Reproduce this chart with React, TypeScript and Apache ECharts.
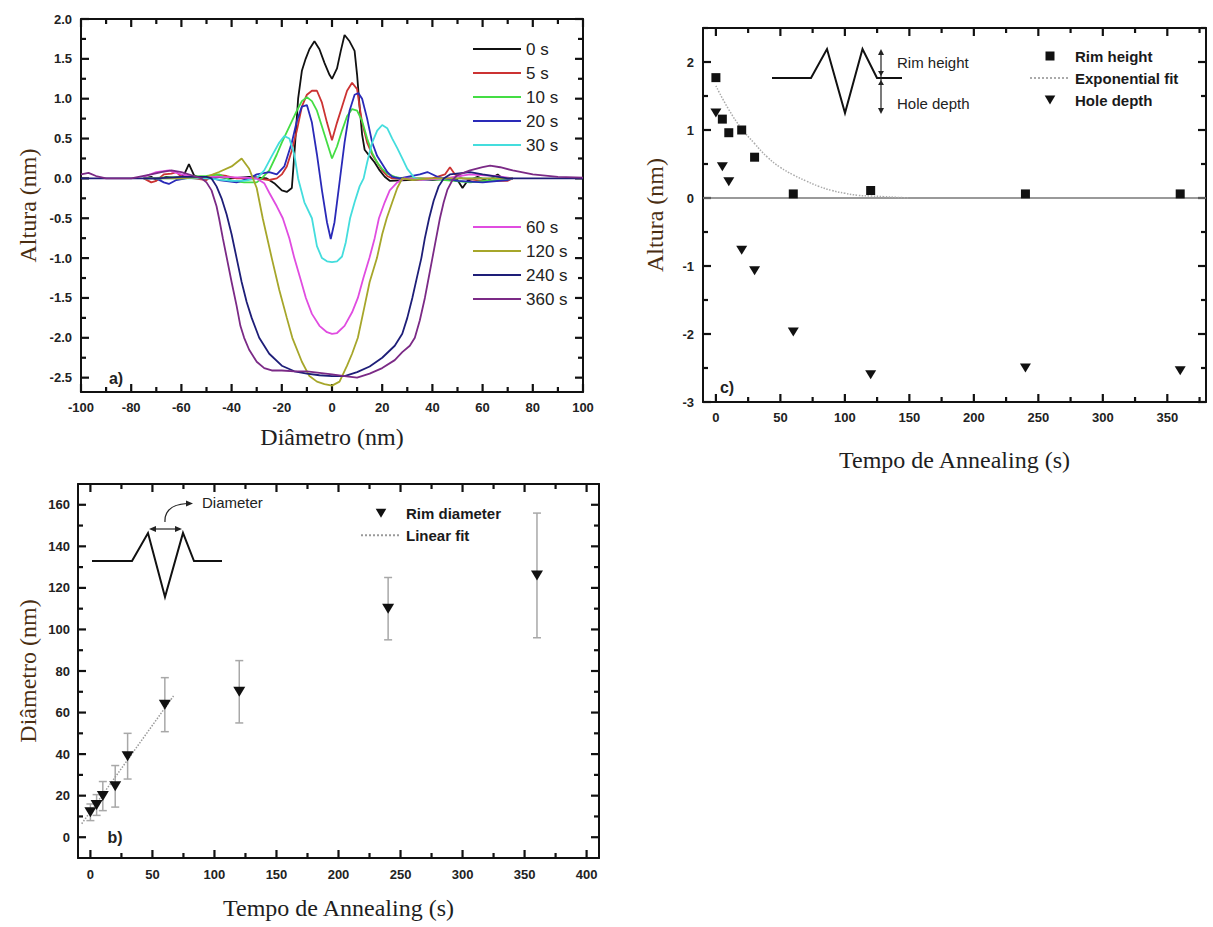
import React, { useEffect, useRef } from 'react';
import * as echarts from 'echarts';

// ---------- Panel a: height profiles ----------
const curveNames = ['0 s', '5 s', '10 s', '20 s', '30 s', '60 s', '120 s', '240 s', '360 s'];
const curveColors = ['#111111', '#cc3333', '#44dd44', '#2a2ab8', '#44dddd', '#e04ce0', '#a6a62a', '#1e1e78', '#7b2a86'];

const curve0s = [[-75,0],[-72,0.02],[-70,-0.02],[-66,0.02],[-62,0],[-59,0.04],[-57,0.18],[-55,0.04],[-52,0],[-46,0.02],[-40,0],[-33,0.02],[-26,0],[-23,-0.06],[-20,-0.15],[-18,-0.17],[-16,-0.12],[-15,0.3],[-13.5,1.0],[-12,1.35],[-10.5,1.5],[-9,1.62],[-7,1.72],[-5,1.62],[-3,1.45],[-1,1.3],[0,1.25],[2,1.38],[3.5,1.6],[5,1.8],[7,1.72],[9,1.6],[10,1.3],[11,0.9],[12,0.55],[13,0.36],[15,0.28],[17,0.2],[19,0.1],[21,0.02],[23,-0.03],[30,-0.02],[40,-0.02],[46,0],[50,-0.02],[52,-0.12],[54,-0.03],[58,0.02],[62,-0.03],[66,0.05],[68,0],[72,0]];
const curve5s = [[-75,0],[-72,-0.05],[-70,-0.03],[-67,0.05],[-64,0.06],[-62,0.08],[-60,0.02],[-55,0],[-50,-0.02],[-47,0.05],[-42,0.03],[-38,0],[-30,0],[-25,-0.02],[-22,0],[-20,0.05],[-18,0.15],[-16,0.35],[-14,0.6],[-12,0.9],[-10,1.05],[-8,1.1],[-6,1.1],[-4,0.95],[-2,0.7],[0,0.48],[2,0.7],[4,0.9],[6,1.1],[8,1.2],[10,1.12],[11,0.9],[12,0.7],[14,0.45],[16,0.3],[18,0.2],[20,0.1],[22,0.03],[24,0],[30,0],[40,0],[45,0.05],[47,0.14],[49,0.05],[52,0],[60,-0.03],[70,-0.03],[72,0]];
const curve10s = [[-75,0],[-60,0.02],[-50,0.03],[-45,0.05],[-40,-0.03],[-35,-0.05],[-30,-0.05],[-28,0],[-25,0.1],[-22,0.3],[-20,0.45],[-17,0.65],[-14,0.85],[-12,0.97],[-10,1.02],[-8,0.97],[-6,0.85],[-4,0.65],[-2,0.45],[0,0.25],[2,0.4],[4,0.6],[6,0.78],[8,0.87],[10,0.85],[12,0.72],[14,0.5],[16,0.32],[18,0.2],[20,0.12],[22,0.06],[25,0.02],[28,0],[35,0],[45,-0.02],[55,-0.05],[65,-0.02],[72,0]];
const curve20s = [[-75,0],[-70,0],[-67,-0.05],[-65,-0.07],[-62,-0.02],[-55,0.02],[-50,0.02],[-45,-0.02],[-38,-0.05],[-33,0],[-30,0.05],[-25,0.08],[-22,0.05],[-19,0.15],[-16,0.45],[-14,0.72],[-12,0.9],[-10,0.92],[-8,0.7],[-6,0.3],[-4,-0.15],[-2,-0.55],[-0.5,-0.76],[1,-0.55],[3,-0.05],[5,0.45],[7,0.85],[9,1.05],[10.5,1.07],[12,1.0],[14,0.75],[16,0.45],[18,0.28],[20,0.18],[22,0.08],[24,0.02],[27,0],[35,0.05],[38,0.08],[42,0.02],[50,-0.03],[60,-0.05],[70,-0.02],[72,0]];
const curve30s = [[-75,0],[-50,0],[-40,-0.03],[-35,-0.03],[-30,0],[-27,0.1],[-24,0.28],[-21,0.45],[-19,0.53],[-17,0.5],[-15,0.3],[-13.5,0],[-11,-0.3],[-8,-0.5],[-6,-0.85],[-4,-1.0],[-2,-1.04],[0,-1.05],[2,-1.04],[4,-0.98],[5.5,-0.8],[7.2,-0.5],[9,-0.3],[11,-0.1],[12.6,0],[14,0.2],[16,0.45],[18,0.6],[20,0.67],[22,0.63],[24,0.5],[26,0.38],[28,0.25],[30,0.12],[33,0],[36,-0.02],[45,0],[72,0]];
const curve60s = [[-75,0.02],[-70,0.08],[-65,0.1],[-60,0.05],[-55,0.02],[-45,0.02],[-35,0.01],[-30,0],[-27,-0.06],[-25,-0.18],[-22,-0.35],[-19.6,-0.5],[-17,-0.75],[-15,-1.0],[-12.5,-1.27],[-10.4,-1.5],[-8,-1.7],[-5,-1.85],[-2,-1.93],[0,-1.95],[2,-1.94],[5,-1.85],[8,-1.68],[10.3,-1.5],[12.5,-1.25],[14.9,-1.0],[17,-0.75],[18.7,-0.5],[21,-0.3],[23,-0.15],[26,-0.05],[29,0],[35,-0.02],[45,0],[55,0.05],[65,0.03],[72,0]];
const curve120s = [[-75,0],[-60,0],[-50,0.02],[-45,0.08],[-40,0.15],[-36,0.25],[-33,0.12],[-31.5,0],[-30,-0.12],[-27.6,-0.5],[-24,-1.0],[-21,-1.4],[-18,-1.75],[-15.8,-2.0],[-12,-2.3],[-9,-2.48],[-6,-2.55],[-3,-2.58],[0,-2.6],[3,-2.55],[6,-2.35],[8,-2.2],[10.3,-2.0],[13,-1.6],[15,-1.3],[17.9,-1.0],[20,-0.7],[21.8,-0.5],[24,-0.3],[26,-0.12],[28,0],[32,-0.02],[40,0],[72,0]];
const curve240s = [[-100,0],[-70,0],[-60,0.02],[-50,0.02],[-48,0],[-46,-0.1],[-44,-0.25],[-42,-0.45],[-40,-0.7],[-38,-1.0],[-36,-1.3],[-34,-1.55],[-32,-1.75],[-29,-2.0],[-25,-2.2],[-20,-2.35],[-15,-2.42],[-10,-2.45],[-5,-2.47],[0,-2.48],[5,-2.48],[10,-2.43],[15,-2.36],[20,-2.25],[25,-2.1],[28,-1.95],[30,-1.75],[32,-1.5],[34,-1.22],[35.6,-1.0],[37,-0.75],[38.7,-0.5],[40.5,-0.28],[42.5,-0.1],[44.5,0],[47,0.05],[55,0.08],[60,0.05],[70,0],[100,0]];
const curve360s = [[-100,0.05],[-97,0.07],[-94,0.03],[-90,0],[-80,0],[-72,0.05],[-68,0.08],[-64,0.1],[-60,0.08],[-55,0.03],[-52,0],[-50,-0.05],[-48,-0.15],[-46,-0.35],[-45,-0.5],[-43.5,-0.75],[-41.9,-1.0],[-40,-1.3],[-38,-1.6],[-36.5,-1.85],[-35,-2.0],[-33,-2.15],[-30,-2.3],[-27,-2.38],[-24,-2.41],[-20,-2.41],[-15,-2.42],[-10,-2.42],[-5,-2.44],[0,-2.46],[5,-2.48],[10,-2.5],[15,-2.45],[20,-2.38],[25,-2.28],[28,-2.18],[31,-2.1],[33,-2.0],[35,-1.78],[37,-1.5],[38.5,-1.25],[40,-1.0],[41.5,-0.75],[43,-0.5],[44.5,-0.3],[46,-0.14],[48,-0.02],[50,0.04],[55,0.1],[60,0.14],[63,0.16],[67,0.14],[72,0.1],[80,0.05],[90,0.02],[100,0.01]];
const curves = [curve0s, curve5s, curve10s, curve20s, curve30s, curve60s, curve120s, curve240s, curve360s];

const aXMajor = [-100, -80, -60, -40, -20, 0, 20, 40, 60, 80, 100];
const aXMinor = [-90, -70, -50, -30, -10, 10, 30, 50, 70, 90];
const aYMajor = [-2.5, -2.0, -1.5, -1.0, -0.5, 0, 0.5, 1.0, 1.5, 2.0];
const aYMinor = [-2.25, -1.75, -1.25, -0.75, -0.25, 0.25, 0.75, 1.25, 1.75];

// ---------- Panel b: rim diameter ----------
const bTimes = [0, 5, 10, 20, 30, 60, 120, 240, 360];
const rimDiameter = [12, 15.5, 19.8, 24.5, 39, 63.8, 70, 110, 126];
const rimDiameterErr = [4, 5, 7, 10, 11, 13, 15, 15, 30];
const linFitX = [-7, 67];
const linFitY = [6.5, 68];
const bXMajor = [0, 50, 100, 150, 200, 250, 300, 350, 400];
const bXMinor = [25, 75, 125, 175, 225, 275, 325, 375];
const bYMajor = [0, 20, 40, 60, 80, 100, 120, 140, 160];
const bYMinor = [10, 30, 50, 70, 90, 110, 130, 150];

// ---------- Panel c: rim height / hole depth ----------
const cTimes = [0, 5, 10, 20, 30, 60, 120, 240, 360];
const rimHeight = [1.77, 1.16, 0.96, 1.0, 0.6, 0.06, 0.11, 0.06, 0.06];
const holeDepth = [1.25, 0.46, 0.24, -0.77, -1.07, -1.97, -2.6, -2.5, -2.54];
const expFitX = [0, 10, 20, 30, 40, 50, 60, 70, 80, 90, 100, 110, 120, 130, 140, 150];
const expFitY = [1.65, 1.3, 1.02, 0.8, 0.6, 0.45, 0.34, 0.25, 0.17, 0.11, 0.07, 0.04, 0.03, 0.02, 0.01, 0.0];
const cXMajor = [0, 50, 100, 150, 200, 250, 300, 350];
const cXMinor = [25, 75, 125, 175, 225, 275, 325, 375];
const cYMajor = [-3, -2, -1, 0, 1, 2];
const cYMinor = [-2.5, -1.5, -0.5, 0.5, 1.5, 2.5];

const SQUARE = 'path://M0,0H10V10H0Z';
const DOWN_TRI = 'path://M0,0L10,0L5,8.5Z';
const AXIS_COLOR = '#111111';
const NAME_FONT = 'Liberation Serif';
const SANS = 'Liberation Sans';

const aXR = [-100, 100], aYR = [-2.68, 2.0];
const bXR = [-10, 410], bYR = [-10, 170];
const cXR = [-10, 380], cYR = [-3, 2.5];

const GRIDS = [
  { left: 81, top: 19, width: 502, height: 373 },
  { left: 78, top: 484, width: 521, height: 374 },
  { left: 703, top: 28, width: 503, height: 374 },
];

function boxAxes(dim: 'x' | 'y', gridIndex: number, range: number[], majors: number[],
  fmt: (v: number) => string, name: string, nameGap: number, nameColor: string, margin: number) {
  const pos = dim === 'x' ? ['bottom', 'top'] : ['left', 'right'];
  const line = { show: true, onZero: false, lineStyle: { color: AXIS_COLOR, width: 2 } };
  const base = { type: 'value', gridIndex, min: range[0], max: range[1], scale: false, splitLine: { show: false }, axisTick: { show: false } };
  return [
    {
      ...base, position: pos[0], axisLine: line,
      axisLabel: { show: true, customValues: majors, formatter: fmt, margin, fontFamily: SANS, fontWeight: 'bold', fontSize: 13, color: '#222' },
      name, nameLocation: 'middle', nameGap,
      nameTextStyle: { fontFamily: NAME_FONT, fontSize: 24, color: nameColor },
    },
    { ...base, position: pos[1], axisLine: line, axisLabel: { show: false } },
  ];
}

const intFmt = (v: number) => String(Math.round(v));
const oneDec = (v: number) => v.toFixed(1);
const Y_NAME_COLOR = '#4a2e12';
const X_NAME_COLOR = '#1e1e1e';

function staticGraphic() {
  const txt = (x: number, y: number, text: string, size: number, weight: string, align = 'left') => ({
    type: 'text', x, y,
    style: {
      text, fill: '#222', fontFamily: SANS, fontSize: size, fontWeight: weight,
      align, verticalAlign: 'middle', textAlign: align, textVerticalAlign: 'middle',
    },
  });
  const ink = { stroke: '#111', lineWidth: 2, fill: 'none' };
  const thin = { stroke: '#222', lineWidth: 1.2 };
  const head = { fill: '#222' };
  return [
    txt(116, 378, 'a)', 16, 'bold', 'center'),
    txt(115, 837, 'b)', 16, 'bold', 'center'),
    txt(727, 387, 'c)', 16, 'bold', 'center'),
    // panel c inset
    { type: 'polyline', shape: { points: [[772, 78], [811, 78], [827, 49], [845, 113], [862.5, 49], [877, 78], [902, 78]] }, style: ink },
    { type: 'line', shape: { x1: 881, y1: 52, x2: 881, y2: 111 }, style: thin },
    { type: 'polygon', shape: { points: [[878, 55], [884, 55], [881, 49]] }, style: head },
    { type: 'polygon', shape: { points: [[878, 71], [884, 71], [881, 76]] }, style: head },
    { type: 'polygon', shape: { points: [[878, 85], [884, 85], [881, 80]] }, style: head },
    { type: 'polygon', shape: { points: [[878, 108], [884, 108], [881, 114]] }, style: head },
    txt(897, 62, 'Rim height', 15, 'normal'),
    txt(897, 103, 'Hole depth', 15, 'normal'),
    // panel b inset
    { type: 'polyline', shape: { points: [[92, 561], [132, 561], [148, 533], [165, 597], [183, 533], [194, 561], [222, 561]] }, style: ink },
    { type: 'line', shape: { x1: 152, y1: 529, x2: 179, y2: 529 }, style: thin },
    { type: 'polygon', shape: { points: [[149, 529], [156, 526], [156, 532]] }, style: head },
    { type: 'polygon', shape: { points: [[182, 529], [175, 526], [175, 532]] }, style: head },
    { type: 'bezierCurve', shape: { x1: 165, y1: 522, x2: 187, y2: 503.5, cpx1: 164, cpy1: 505 }, style: { stroke: '#222', lineWidth: 1.2, fill: 'none' } },
    { type: 'polygon', shape: { points: [[186, 500.5], [186, 506.5], [193, 503.5]] }, style: head },
    txt(202, 502, 'Diameter', 15, 'normal'),
  ];
}

// inward ticks on all four sides of each box; positions follow each axis' linear value range
function tickGraphic() {
  const out: any[] = [];
  const st = { stroke: AXIS_COLOR, lineWidth: 2.2 };
  const panels = [
    { g: GRIDS[0], xr: aXR, yr: aYR, xM: aXMajor, xm: aXMinor, yM: aYMajor, ym: aYMinor },
    { g: GRIDS[1], xr: bXR, yr: bYR, xM: bXMajor, xm: bXMinor, yM: bYMajor, ym: bYMinor },
    { g: GRIDS[2], xr: cXR, yr: cYR, xM: cXMajor, xm: cXMinor, yM: cYMajor, ym: cYMinor },
  ];
  panels.forEach((p) => {
    const left = p.g.left, right = p.g.left + p.g.width, top = p.g.top, bottom = p.g.top + p.g.height;
    const sx = (v: number) => left + ((v - p.xr[0]) / (p.xr[1] - p.xr[0])) * p.g.width;
    const sy = (v: number) => bottom - ((v - p.yr[0]) / (p.yr[1] - p.yr[0])) * p.g.height;
    const xt = (vals: number[], len: number) => vals.forEach((v) => {
      const x = sx(v);
      out.push({ type: 'line', shape: { x1: x, y1: bottom, x2: x, y2: bottom - len }, style: st });
      out.push({ type: 'line', shape: { x1: x, y1: top, x2: x, y2: top + len }, style: st });
    });
    const yt = (vals: number[], len: number) => vals.forEach((v) => {
      const y = sy(v);
      out.push({ type: 'line', shape: { x1: left, y1: y, x2: left + len, y2: y }, style: st });
      out.push({ type: 'line', shape: { x1: right, y1: y, x2: right - len, y2: y }, style: st });
    });
    xt(p.xM, 8); xt(p.xm, 5); yt(p.yM, 8); yt(p.ym, 5);
  });
  return out;
}

function buildOption() {
  const xAxis = [
    ...boxAxes('x', 0, aXR, aXMajor, intFmt, 'Diâmetro (nm)', 33, X_NAME_COLOR, 9),
    ...boxAxes('x', 1, bXR, bXMajor, intFmt, 'Tempo de Annealing (s)', 38, X_NAME_COLOR, 10),
    ...boxAxes('x', 2, cXR, cXMajor, intFmt, 'Tempo de Annealing (s)', 46, X_NAME_COLOR, 9),
  ];
  const yAxis = [
    ...boxAxes('y', 0, aYR, aYMajor, oneDec, 'Altura (nm)', 41, Y_NAME_COLOR, 9),
    ...boxAxes('y', 1, bYR, bYMajor, intFmt, 'Diâmetro (nm)', 38, Y_NAME_COLOR, 8),
    ...boxAxes('y', 2, cYR, cYMajor, intFmt, 'Altura (nm)', 36, Y_NAME_COLOR, 9),
  ];

  const aSeries = curves.map((c, i) => ({
    type: 'line', name: curveNames[i], xAxisIndex: 0, yAxisIndex: 0,
    data: c, symbol: 'none', showSymbol: false,
    lineStyle: { color: curveColors[i], width: 1.8 }, itemStyle: { color: curveColors[i] },
  }));

  const errData = bTimes.map((t, i) => [t, rimDiameter[i] - rimDiameterErr[i], rimDiameter[i] + rimDiameterErr[i]]);

  const series: any[] = [
    ...aSeries,
    {
      type: 'custom', xAxisIndex: 2, yAxisIndex: 2, data: errData, z: 1,
      encode: { x: 0, y: [1, 2] },
      renderItem: (params: any, api: any) => {
        const x = api.value(0);
        const lo = api.coord([x, api.value(1)]);
        const hi = api.coord([x, api.value(2)]);
        const w = 4;
        const st = { stroke: '#a8a8a8', lineWidth: 1.5 };
        return {
          type: 'group',
          children: [
            { type: 'line', shape: { x1: hi[0], y1: hi[1], x2: lo[0], y2: lo[1] }, style: st },
            { type: 'line', shape: { x1: hi[0] - w, y1: hi[1], x2: hi[0] + w, y2: hi[1] }, style: st },
            { type: 'line', shape: { x1: lo[0] - w, y1: lo[1], x2: lo[0] + w, y2: lo[1] }, style: st },
          ],
        };
      },
    },
    {
      type: 'line', name: 'Linear fit', xAxisIndex: 2, yAxisIndex: 2, z: 2,
      data: linFitX.map((x, i) => [x, linFitY[i]]), symbol: 'none',
      lineStyle: { color: '#9a9a9a', width: 1.5, type: 'dotted' }, itemStyle: { color: '#9a9a9a' },
    },
    {
      type: 'scatter', name: 'Rim diameter', xAxisIndex: 2, yAxisIndex: 2, z: 3,
      data: bTimes.map((t, i) => [t, rimDiameter[i]]), symbol: DOWN_TRI, symbolSize: [12, 10],
      itemStyle: { color: '#111', opacity: 1 },
    },
    {
      type: 'line', name: 'Exponential fit', xAxisIndex: 4, yAxisIndex: 4, z: 2,
      data: expFitX.map((x, i) => [x, expFitY[i]]), symbol: 'none', smooth: true,
      lineStyle: { color: '#aaaaaa', width: 1.5, type: 'dotted' }, itemStyle: { color: '#aaaaaa' },
    },
    {
      type: 'scatter', name: 'Rim height', xAxisIndex: 4, yAxisIndex: 4, z: 3,
      data: cTimes.map((t, i) => [t, rimHeight[i]]), symbol: SQUARE, symbolSize: 9,
      itemStyle: { color: '#111', opacity: 1 },
      markLine: {
        silent: true, symbol: ['none', 'none'], label: { show: false }, z: 1,
        lineStyle: { color: '#777', width: 1.5, type: 'solid' },
        data: [{ yAxis: 0 }],
      },
    },
    {
      type: 'scatter', name: 'Hole depth', xAxisIndex: 4, yAxisIndex: 4, z: 3,
      data: cTimes.map((t, i) => [t, holeDepth[i]]), symbol: DOWN_TRI, symbolSize: [11, 9],
      itemStyle: { color: '#111', opacity: 1 },
    },
  ];

  const legendA = {
    orient: 'vertical', padding: 0, itemWidth: 48, itemHeight: 14, itemGap: 7, selectedMode: false,
    itemStyle: { opacity: 0 },
    textStyle: { fontFamily: SANS, fontSize: 17, color: '#222' },
  };
  const legendBC = {
    orient: 'vertical', padding: 0, itemWidth: 40, itemHeight: 9, itemGap: 7, selectedMode: false,
    textStyle: { fontFamily: SANS, fontSize: 15, fontWeight: 'bold', color: '#1a1a1a' },
  };
  const hideSym = { opacity: 0 };

  return {
    animation: false,
    backgroundColor: '#ffffff',
    grid: GRIDS,
    xAxis, yAxis,
    legend: [
      { ...legendA, left: 472, top: 40.5, data: curveNames.slice(0, 5) },
      { ...legendA, left: 472, top: 218.5, data: curveNames.slice(5) },
      {
        ...legendBC, left: 1029, top: 48.5,
        data: ['Rim height', { name: 'Exponential fit', itemStyle: hideSym }, 'Hole depth'],
      },
      {
        ...legendBC, left: 360, top: 505.8,
        data: ['Rim diameter', { name: 'Linear fit', itemStyle: hideSym }],
      },
    ],
    series,
    graphic: [...staticGraphic(), ...tickGraphic()],
  };
}

export default function App() {
  const ref = useRef<HTMLDivElement>(null);
  useEffect(() => {
    document.body.style.margin = '0';
    const chart = echarts.init(ref.current as HTMLDivElement, null, { renderer: 'svg' });
    chart.setOption(buildOption() as any);
    return () => chart.dispose();
  }, []);
  return <div ref={ref} style={{ width: 1213, height: 927 }} />;
}
